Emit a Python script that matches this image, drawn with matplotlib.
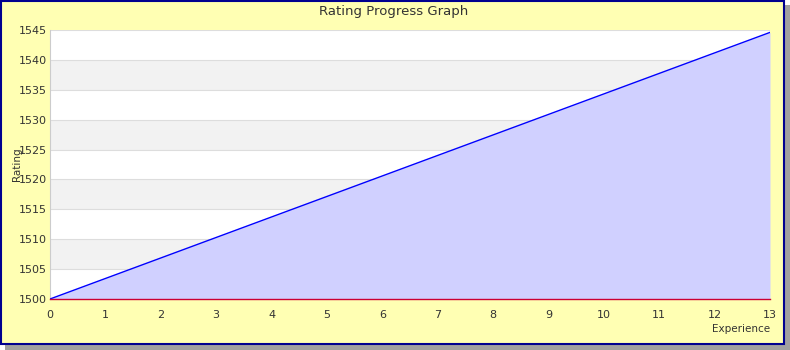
import numpy as np
import matplotlib.pyplot as plt
from matplotlib.patches import Rectangle

# data
experience = [0, 13]
rating = [1500, 1544.6]
x_ticks = list(range(0, 14))
y_ticks = list(range(1500, 1546, 5))

fig = plt.figure(figsize=(7.9, 3.5), dpi=100)
fig.patch.set_facecolor('white')

# shadow + yellow frame
W, H = 790.0, 350.0
fig.patches.append(Rectangle((5 / W, 0), 785 / W, 345 / H, transform=fig.transFigure,
                             facecolor='#a0a0a0', edgecolor='none', zorder=-2))
fig.patches.append(Rectangle((1 / W, 6 / H), 783 / W, 343 / H, transform=fig.transFigure,
                             facecolor='#ffffb3', edgecolor='#000090', linewidth=1.5, zorder=-1))

ax = fig.add_axes([50 / W, 51 / H, 720 / W, 269 / H])
ax.set_zorder(2)
ax.set_facecolor('white')
ax.set_xlim(0, 13)
ax.set_ylim(1500, 1545)

# alternating bands
for y0 in y_ticks[:-1]:
    if ((y0 - 1500) // 5) % 2 == 1:
        ax.axhspan(y0, y0 + 5, color='#f2f2f2', zorder=0, lw=0)
for y in y_ticks[1:]:
    ax.axhline(y, color='#dddddd', lw=0.8, zorder=1)

ax.fill_between(experience, rating, 1500, color='#d0d0ff', zorder=2, lw=0)
ax.plot(experience, rating, color='#0000ff', lw=1, zorder=3)
ax.axhline(1500, color='#cc0033', lw=1.0, zorder=4, clip_on=False)

ax.set_xticks(x_ticks)
ax.set_yticks(y_ticks)
ax.tick_params(axis='y', length=0, labelsize=8, labelcolor='#333333', pad=2)
ax.tick_params(axis='x', length=0, labelsize=8, labelcolor='#333333', pad=8)
for s in ['top', 'right', 'bottom']:
    ax.spines[s].set_visible(False)
ax.spines['left'].set_color('#cccccc')

fig.text(394 / W, 1 - 11 / H, 'Rating Progress Graph', ha='center', va='center',
         fontsize=9.5, color='#333333')
fig.text(17 / W, 1 - 164 / H, 'Rating', rotation=90, ha='center', va='center',
         fontsize=7.5, color='#333333')
fig.text(770 / W, 1 - 329 / H, 'Experience', ha='right', va='center',
         fontsize=7.5, color='#333333')

plt.savefig('out.png', dpi=100)
